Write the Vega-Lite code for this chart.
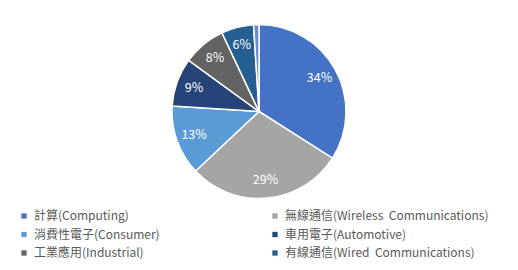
{
  "$schema": "https://vega.github.io/schema/vega-lite/v6.json",
  "width": 518,
  "height": 223,
  "padding": 0,
  "background": "white",
  "config": {"view": {"stroke": null}, "font": "Noto Sans CJK TC"},
  "data": {"values": [
    {"name": "計算(Computing)", "value": 34, "label": "34%", "idx": 1},
    {"name": "無線通信(Wireless\u00a0 Communications)", "value": 29, "label": "29%", "idx": 2},
    {"name": "消費性電子(Consumer)", "value": 13, "label": "13%", "idx": 3},
    {"name": "車用電子(Automotive)", "value": 9, "label": "9%", "idx": 4},
    {"name": "工業應用(Industrial)", "value": 8, "label": "8%", "idx": 5},
    {"name": "有線通信(Wired\u00a0 Communications)", "value": 6, "label": "6%", "idx": 6},
    {"name": "其他", "value": 1, "label": "", "idx": 7}
  ]},
  "encoding": {
    "theta": {"field": "value", "type": "quantitative", "stack": true},
    "order": {"field": "idx", "type": "quantitative"}
  },
  "layer": [
    {
      "mark": {"type": "arc", "outerRadius": 87, "stroke": "white", "strokeWidth": 1.5},
      "encoding": {
        "color": {
          "field": "name", "type": "nominal",
          "scale": {
            "domain": ["計算(Computing)", "無線通信(Wireless\u00a0 Communications)", "消費性電子(Consumer)", "車用電子(Automotive)", "工業應用(Industrial)", "有線通信(Wired\u00a0 Communications)", "其他"],
            "range": ["#4472C4", "#A5A5A5", "#5B9BD5", "#264478", "#636363", "#255E91", "#698ED0"]
          },
          "legend": {
            "values": ["計算(Computing)", "消費性電子(Consumer)", "工業應用(Industrial)", "無線通信(Wireless\u00a0 Communications)", "車用電子(Automotive)", "有線通信(Wired\u00a0 Communications)"],
            "title": null,
            "orient": "none",
            "legendX": 18,
            "legendY": 210,
            "columns": 2,
            "columnPadding": 109,
            "rowPadding": 6.5,
            "symbolType": "square",
            "symbolSize": 28,
            "symbolStrokeWidth": 0,
            "labelOffset": 4,
            "labelFontSize": 12,
            "labelColor": "#595959",
            "labelLimit": 300,
            "padding": 0
          }
        }
      }
    },
    {
      "mark": {"type": "text", "radius": 69, "fontSize": 12.5, "fill": "white"},
      "encoding": {
        "detail": {"field": "name", "type": "nominal"},
        "text": {"field": "label", "type": "nominal"}
      }
    }
  ]
}
